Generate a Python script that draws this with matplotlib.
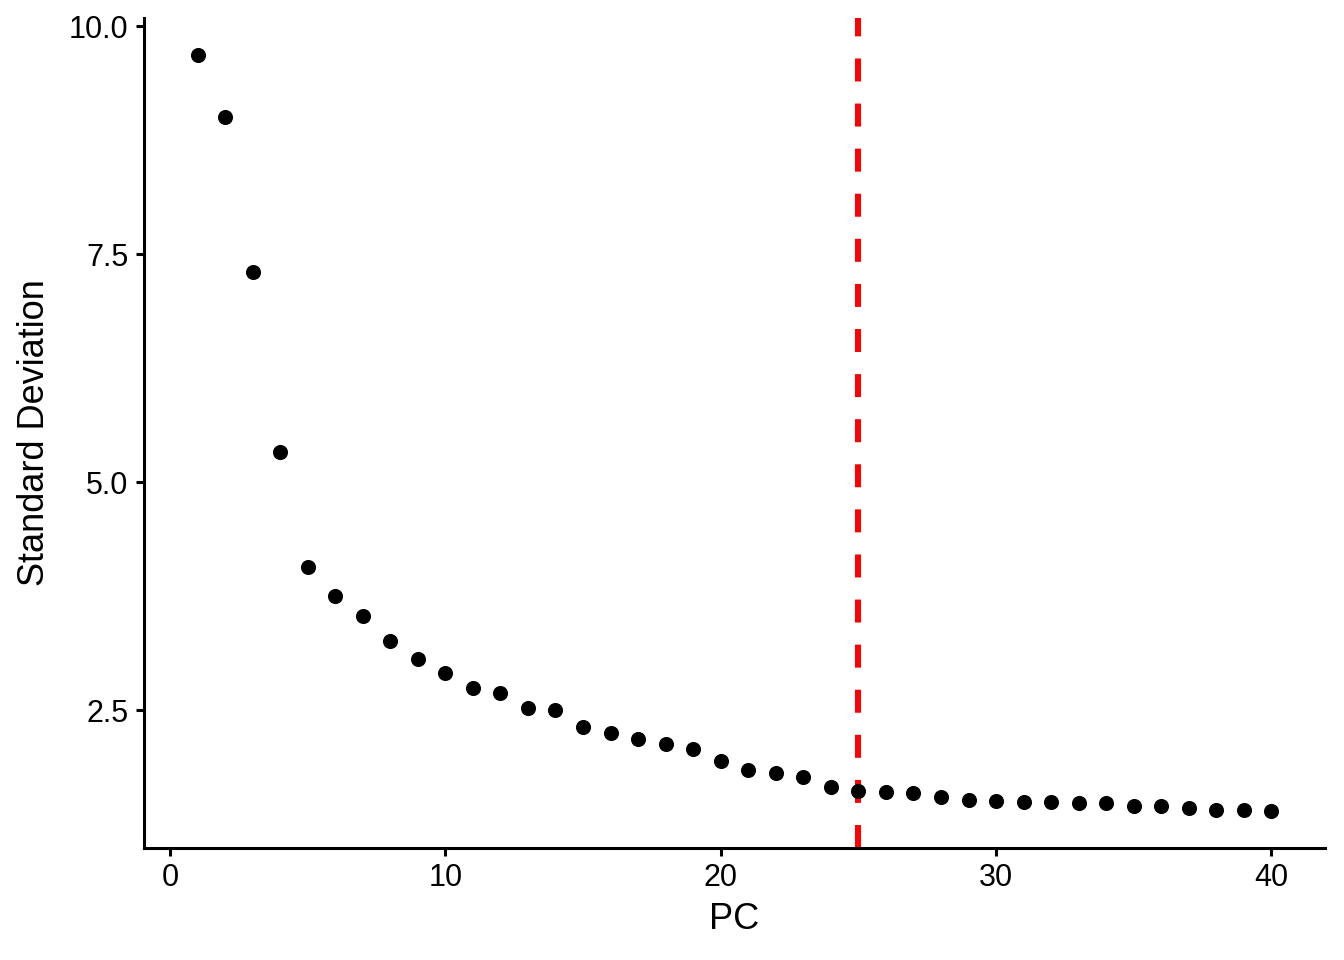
import matplotlib
matplotlib.use('Agg')
import matplotlib.pyplot as plt
import numpy as np

# Standard deviation per principal component (elbow plot)
pcs = np.arange(1, 41)
stdev = [9.68, 9.00, 7.30, 5.33, 4.07, 3.75, 3.53, 3.26, 3.06, 2.91,
         2.74, 2.69, 2.53, 2.50, 2.32, 2.25, 2.19, 2.13, 2.07, 1.94,
         1.84, 1.81, 1.77, 1.66, 1.62, 1.60, 1.59, 1.55, 1.52, 1.51,
         1.49, 1.49, 1.48, 1.48, 1.45, 1.45, 1.43, 1.41, 1.41, 1.40]
cutoff = 25
x_ticks = [0, 10, 20, 30, 40]
y_ticks = [2.5, 5.0, 7.5, 10.0]

plt.rcParams['font.family'] = ['Liberation Sans', 'DejaVu Sans']

fig = plt.figure(figsize=(13.44, 9.6), dpi=100)
ax = fig.add_axes([0.107, 0.1167, 0.879, 0.8645])

ax.scatter(pcs, stdev, s=118, color='black', linewidths=0, zorder=3)
ax.axvline(cutoff, color='#FF0000', linewidth=4.3, dashes=(3.85, 3.7), zorder=2)

ax.set_xlim(-0.95, 41.95)
ax.set_ylim(0.99, 10.09)
ax.set_xticks(x_ticks)
ax.set_yticks(y_ticks)
ax.set_yticklabels(['%.1f' % v for v in y_ticks])

for side in ['top', 'right']:
    ax.spines[side].set_visible(False)
for side in ['left', 'bottom']:
    ax.spines[side].set_linewidth(2.2)
ax.tick_params(axis='both', width=2.2, length=6, labelsize=22, pad=5, colors='black')

ax.set_xlabel('PC', fontsize=26, labelpad=6)
ax.set_ylabel('Standard Deviation', fontsize=26, labelpad=12)

fig.savefig('out.png', dpi=100)
